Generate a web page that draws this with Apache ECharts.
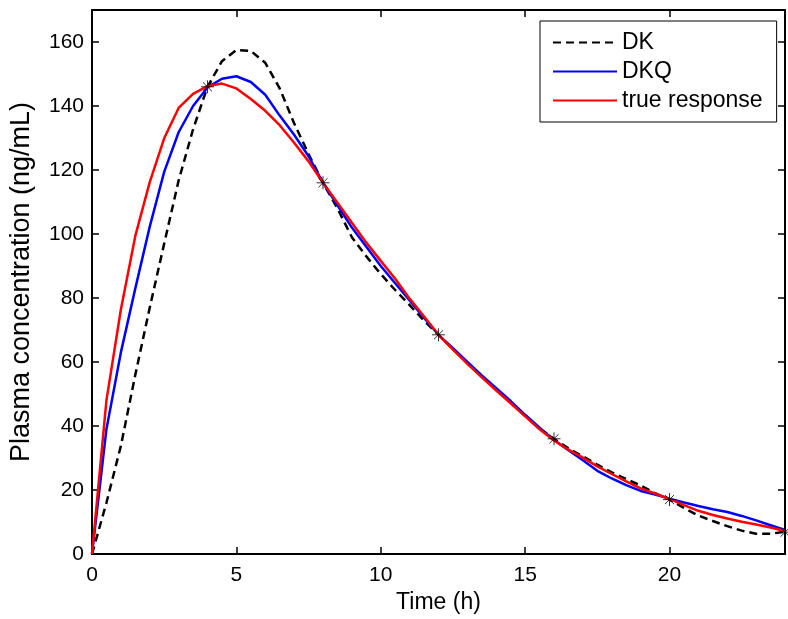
<!DOCTYPE html>
<html>
<head>
<meta charset="utf-8">
<script src="https://cdn.jsdelivr.net/npm/echarts@6/dist/echarts.min.js"></script>
<style>html,body{margin:0;padding:0;background:#fff;}#chart{width:788px;height:619px;}</style>
</head>
<body>
<div id="chart"></div>
<script>
const times = [0,0.5,1,1.5,2,2.5,3,3.5,4,4.5,5,5.5,6,6.5,7,7.5,8,8.5,9,9.5,10,10.5,11,11.5,12,12.5,13,13.5,14,14.5,15,15.5,16,16.5,17,17.5,18,18.5,19,19.5,20,20.5,21,21.5,22,22.5,23,23.5,24];
const dk = [0,16,33.8,56,77,97,116.7,132.7,146,154,157.5,157.2,153.5,145.5,134.6,125,116,108,99,93,87.5,82.5,77.8,72.9,68.5,64,59.8,55.5,51.4,47.3,43.2,39.2,36,33,30.5,27.9,25.5,23.4,21.4,19,17,14.4,12,10.3,8.7,7.3,6.3,6.3,7];
const dkq = [0,39,63,83,102.3,119.4,131.8,140,145.8,148.5,149.3,147.5,143.5,137,131,124.3,116,109,102,96,90,84.6,79.2,73.8,68.5,64.3,60,55.8,51.8,47.8,43.5,39.5,35.6,32.4,29.3,26,23.6,21.5,19.7,18.6,17.3,16.1,15,14,13.1,11.9,10.5,9,7.5];
const trueResp = [0,48,76.4,99.4,116.2,129.9,139.4,143.8,146.2,147,145.5,142.2,138.5,134,128.5,122.7,116,109.8,103.5,97.3,91.6,86,79.8,74.2,68.5,63.9,59.4,55.2,51.1,47.1,43,39,35.5,32.6,30.1,27.4,25,22.7,20.5,18.9,17.2,15.3,13.5,12.2,11.1,10.1,9.2,8.3,7.2];
const sampleTimes = [4,8,12,16,20,24];
const sampleValues = [146,116,68.5,36,17,6.8];
const xTicks = [0,5,10,15,20];
const yTicks = [0,20,40,60,80,100,120,140,160];

const FONT = 'Liberation Sans, Arial, Helvetica, sans-serif';
const pair = (xs, ys) => xs.map((x, i) => [x, ys[i]]);

const chart = echarts.init(document.getElementById('chart'));
const axisLineStyle = { show: true, onZero: false, lineStyle: { color: '#000', width: 2 } };
const tickStyle = { show: true, inside: true, length: 7, lineStyle: { color: '#000', width: 1.5 } };

chart.setOption({
  animation: false,
  backgroundColor: '#fff',
  grid: { left: 92, top: 10, right: 3, bottom: 65, containLabel: false },
  legend: {
    left: 540, top: 21, orient: 'vertical',
    backgroundColor: '#fff', borderColor: '#000', borderWidth: 1,
    padding: [10, 14, 10, 12],
    itemWidth: 64, itemHeight: 14, itemGap: 6,
    itemStyle: { opacity: 0 },
    textStyle: { fontFamily: FONT, fontSize: 23, color: '#000', lineHeight: 22 },
    data: ['DK', 'DKQ', 'true response']
  },
  xAxis: [
    {
      type: 'value', min: 0, max: 24, interval: 5, position: 'bottom',
      name: 'Time (h)', nameLocation: 'middle', nameGap: 31,
      nameTextStyle: { fontFamily: FONT, fontSize: 23, color: '#000' },
      axisLine: axisLineStyle, axisTick: tickStyle, splitLine: { show: false },
      axisLabel: { fontFamily: FONT, fontSize: 21, color: '#000', margin: 11, showMaxLabel: false,
        formatter: v => xTicks.includes(v) ? String(v) : '' }
    },
    {
      type: 'value', min: 0, max: 24, interval: 5, position: 'top',
      axisLine: axisLineStyle, axisTick: tickStyle, splitLine: { show: false },
      axisLabel: { show: false }
    }
  ],
  yAxis: [
    {
      type: 'value', min: 0, max: 170, interval: 20, position: 'left',
      name: 'Plasma concentration (ng/mL)', nameLocation: 'middle', nameGap: 57, nameRotate: 90,
      nameTextStyle: { fontFamily: FONT, fontSize: 27, color: '#000' },
      axisLine: axisLineStyle, axisTick: tickStyle, splitLine: { show: false },
      axisLabel: { fontFamily: FONT, fontSize: 21, color: '#000', margin: 8, showMaxLabel: false,
        formatter: v => yTicks.includes(v) ? String(v) : '' }
    },
    {
      type: 'value', min: 0, max: 170, interval: 20, position: 'right',
      axisLine: axisLineStyle, axisTick: tickStyle, splitLine: { show: false },
      axisLabel: { show: false }
    }
  ],
  series: [
    {
      name: 'DK', type: 'line', xAxisIndex: 0, yAxisIndex: 0, showSymbol: false, symbol: 'none',
      data: pair(times, dk), lineStyle: { color: '#000', width: 2.5, type: [8, 5] }, itemStyle: { color: '#000' }, z: 2
    },
    {
      name: 'DKQ', type: 'line', xAxisIndex: 0, yAxisIndex: 0, showSymbol: false, symbol: 'none',
      data: pair(times, dkq), lineStyle: { color: '#0000ff', width: 2.5 }, itemStyle: { color: '#0000ff' }, z: 3
    },
    {
      name: 'true response', type: 'line', xAxisIndex: 0, yAxisIndex: 0, showSymbol: false, symbol: 'none',
      data: pair(times, trueResp), lineStyle: { color: '#ff0000', width: 2.5 }, itemStyle: { color: '#ff0000' }, z: 4
    },
    {
      name: 'samples', type: 'scatter', xAxisIndex: 0, yAxisIndex: 0,
      data: pair(sampleTimes, sampleValues),
      symbol: 'path://M10,0L10,20M0,10L20,10M3,3L17,17M3,17L17,3', symbolSize: 13,
      itemStyle: { color: 'rgba(0,0,0,0)', borderColor: '#000', borderWidth: 1 }, z: 5
    }
  ]
});
</script>
</body>
</html>
